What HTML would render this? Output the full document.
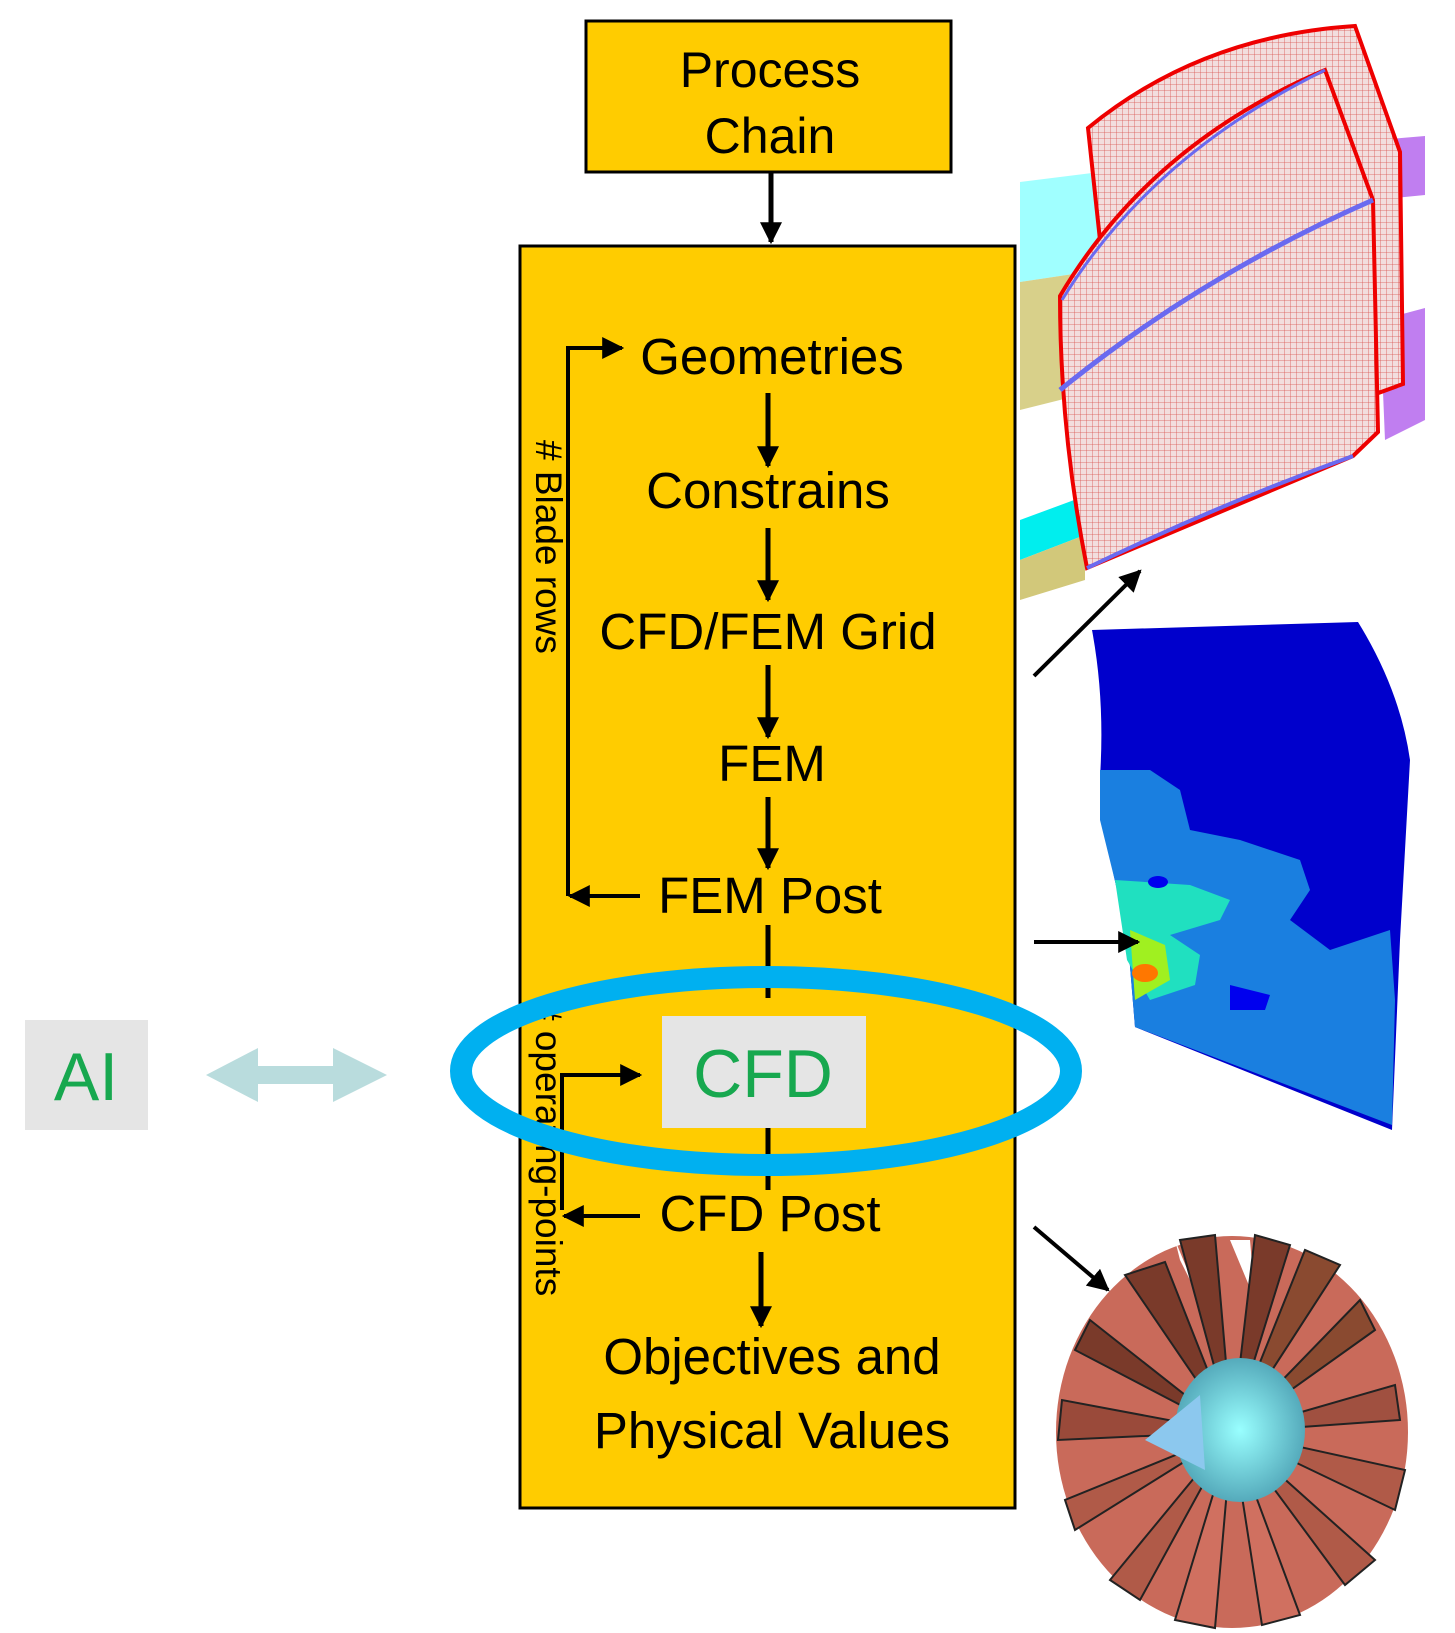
<!DOCTYPE html>
<html><head><meta charset="utf-8"><style>
html,body{margin:0;padding:0;background:#fff;}
svg{display:block;}
text{font-family:"Liberation Sans",Arial,sans-serif;}
</style></head><body>
<svg width="1455" height="1633" viewBox="0 0 1455 1633" xmlns="http://www.w3.org/2000/svg">
<defs>
<marker id="ab" viewBox="0 0 10 10" markerWidth="22" markerHeight="22" refX="9" refY="5" orient="auto" markerUnits="userSpaceOnUse">
<path d="M0,0 L10,5 L0,10 z" fill="#000"/></marker>
<pattern id="mesh" width="6" height="6" patternUnits="userSpaceOnUse">
<rect width="6" height="6" fill="#f2dede"/><path d="M0,0 H6 M0,0 V6" stroke="#d9534f" stroke-width="0.8"/></pattern>
<radialGradient id="hub" cx="0.5" cy="0.5" r="0.5"><stop offset="0" stop-color="#9ff"/><stop offset="1" stop-color="#5ab"/></radialGradient>
</defs>

<!-- Process Chain -->
<rect x="586" y="21" width="365" height="151" fill="#ffcc00" stroke="#000" stroke-width="3"/>
<text x="770" y="87" font-size="50" text-anchor="middle">Process</text>
<text x="770" y="153" font-size="50" text-anchor="middle">Chain</text>
<line x1="771" y1="172" x2="771" y2="242" stroke="#000" stroke-width="5" marker-end="url(#ab)"/>

<!-- Main box -->
<rect x="520" y="246" width="495" height="1262" fill="#ffcc00" stroke="#000" stroke-width="3"/>

<g font-size="51" text-anchor="middle" fill="#000">
<text x="772" y="374">Geometries</text>
<text x="768" y="508">Constrains</text>
<text x="768" y="649">CFD/FEM Grid</text>
<text x="772" y="781">FEM</text>
<text x="770" y="913">FEM Post</text>
<text x="770" y="1231">CFD Post</text>
<text x="772" y="1374">Objectives and</text>
<text x="772" y="1448">Physical Values</text>
</g>

<g stroke="#000" stroke-width="5">
<line x1="768" y1="393" x2="768" y2="466" marker-end="url(#ab)"/>
<line x1="768" y1="528" x2="768" y2="600" marker-end="url(#ab)"/>
<line x1="768" y1="665" x2="768" y2="737" marker-end="url(#ab)"/>
<line x1="768" y1="797" x2="768" y2="868" marker-end="url(#ab)"/>
<line x1="768" y1="925" x2="768" y2="998"/>
<line x1="768" y1="1128" x2="768" y2="1190"/>
<line x1="761" y1="1252" x2="761" y2="1326" marker-end="url(#ab)"/>
</g>

<g stroke="#000" stroke-width="4" fill="none">
<polyline points="568,896 568,348 622,348" marker-end="url(#ab)"/>
<line x1="640" y1="896" x2="570" y2="896" marker-end="url(#ab)"/>
<polyline points="562,1210 562,1075 640,1075" marker-end="url(#ab)"/>
<line x1="640" y1="1216" x2="564" y2="1216" marker-end="url(#ab)"/>
</g>
<text font-size="37" transform="translate(536,440) rotate(90)">#  Blade rows</text>
<text font-size="37" transform="translate(536,1000) rotate(90)"># operating-points</text>

<rect x="662" y="1016" width="204" height="112" fill="#e5e5e5"/>
<text x="763" y="1097" font-size="68" fill="#17a84f" text-anchor="middle">CFD</text>

<ellipse cx="766" cy="1071" rx="305" ry="94" fill="none" stroke="#00b0f0" stroke-width="22"/>

<rect x="25" y="1020" width="123" height="110" fill="#e5e5e5"/>
<text x="86" y="1100" font-size="68" fill="#17a84f" text-anchor="middle">AI</text>
<polygon points="206,1075 258,1048 258,1066 333,1066 333,1048 387,1075 333,1102 333,1084 258,1084 258,1102" fill="#b9dcdd"/>

<!-- blade mesh image -->
<g>
<path d="M1020,182 L1100,172 L1100,270 L1020,282 z" fill="#8ff" opacity="0.8"/>
<path d="M1020,282 L1100,270 L1100,390 L1020,410 z" fill="#d8d08a"/>
<path d="M1020,520 L1085,496 L1085,535 L1020,560 z" fill="#0ee"/>
<path d="M1020,560 L1085,535 L1085,580 L1020,600 z" fill="#d2c87a"/>
<path d="M1378,140 L1425,136 L1425,195 L1375,200 z" fill="#c07ef0"/>
<path d="M1380,320 L1425,308 L1425,420 L1385,440 z" fill="#c07ef0"/>
<path d="M1088,128 Q1200,36 1355,26 L1400,152 L1403,384 L1370,396 L1100,240 z" fill="url(#mesh)" stroke="#e00" stroke-width="4"/>
<path d="M1060,296 Q1150,144 1325,70 L1373,200 L1378,432 L1353,456 L1087,568 Q1060,432 1060,296 z" fill="url(#mesh)" stroke="#e00" stroke-width="4"/>
<path d="M1060,390 Q1200,276 1373,200" stroke="#6a6af0" stroke-width="5" fill="none"/>
<path d="M1087,568 Q1220,504 1353,456" stroke="#6a6af0" stroke-width="4" fill="none"/>
<path d="M1062,300 Q1150,156 1325,70" stroke="#6a6af0" stroke-width="3" fill="none"/>
</g>
<line x1="1034" y1="676" x2="1140" y2="571" stroke="#000" stroke-width="4" marker-end="url(#ab)"/>

<!-- contour image -->
<path d="M1092,630 L1358,622 Q1400,690 1410,760 Q1405,850 1400,940 L1392,1130 L1135,1027 L1127,930 Q1105,850 1100,777 Q1105,700 1092,630 z" fill="#0000cc"/>
<path d="M1100,770 L1150,770 L1180,790 L1190,830 L1240,840 L1300,860 L1310,890 L1290,920 L1330,950 L1390,930 L1395,1000 L1392,1125 L1135,1027 L1127,930 L1100,820 z" fill="#1a7fe0"/>
<path d="M1115,880 L1190,885 L1230,900 L1220,920 L1170,935 L1200,955 L1195,985 L1150,1000 L1127,960 z" fill="#20e0c0"/>
<path d="M1130,930 L1165,945 L1170,980 L1135,1000 z" fill="#a0f020"/>
<ellipse cx="1145" cy="973" rx="13" ry="9" fill="#ff7700"/>
<path d="M1230,985 L1270,995 L1265,1010 L1230,1010 z" fill="#0000ee"/>
<ellipse cx="1158" cy="882" rx="10" ry="6" fill="#0000ee"/>
<line x1="1034" y1="942" x2="1138" y2="942" stroke="#000" stroke-width="4" marker-end="url(#ab)"/>

<!-- fan image -->
<g>
<ellipse cx="1232" cy="1432" rx="176" ry="196" fill="#c96a5a"/>
<path d="M1180,1260 L1200,1300 L1175,1240 z M1250,1240 L1255,1300 L1230,1240 z" fill="#fff"/>
<g stroke="#222" stroke-width="2" fill="#b05a48">
<path d="M1232,1432 L1125,1275 L1165,1262 z" fill="#7a3a2a"/>
<path d="M1232,1432 L1180,1240 L1215,1235 z" fill="#7a3a2a"/>
<path d="M1232,1432 L1255,1235 L1290,1245 z" fill="#7a3a2a"/>
<path d="M1232,1432 L1305,1250 L1340,1265 z" fill="#8a4a30"/>
<path d="M1232,1432 L1360,1300 L1375,1330 z" fill="#8a4a30"/>
<path d="M1232,1432 L1395,1385 L1400,1420 z" fill="#a05040"/>
<path d="M1232,1432 L1405,1470 L1395,1510 z"/>
<path d="M1232,1432 L1375,1560 L1345,1585 z"/>
<path d="M1232,1432 L1300,1615 L1262,1625 z" fill="#d07060"/>
<path d="M1232,1432 L1215,1628 L1175,1620 z" fill="#d07060"/>
<path d="M1232,1432 L1140,1600 L1110,1580 z"/>
<path d="M1232,1432 L1075,1530 L1065,1500 z"/>
<path d="M1232,1432 L1058,1440 L1062,1400 z" fill="#9a4a3a"/>
<path d="M1232,1432 L1075,1350 L1090,1320 z" fill="#7a3a2a"/>
</g>
<ellipse cx="1240" cy="1430" rx="65" ry="72" fill="url(#hub)"/>
<path d="M1145,1440 L1200,1395 L1205,1470 z" fill="#8cc8ee"/>
</g>
<line x1="1034" y1="1227" x2="1108" y2="1290" stroke="#000" stroke-width="4" marker-end="url(#ab)"/>
</svg>
</body></html>
